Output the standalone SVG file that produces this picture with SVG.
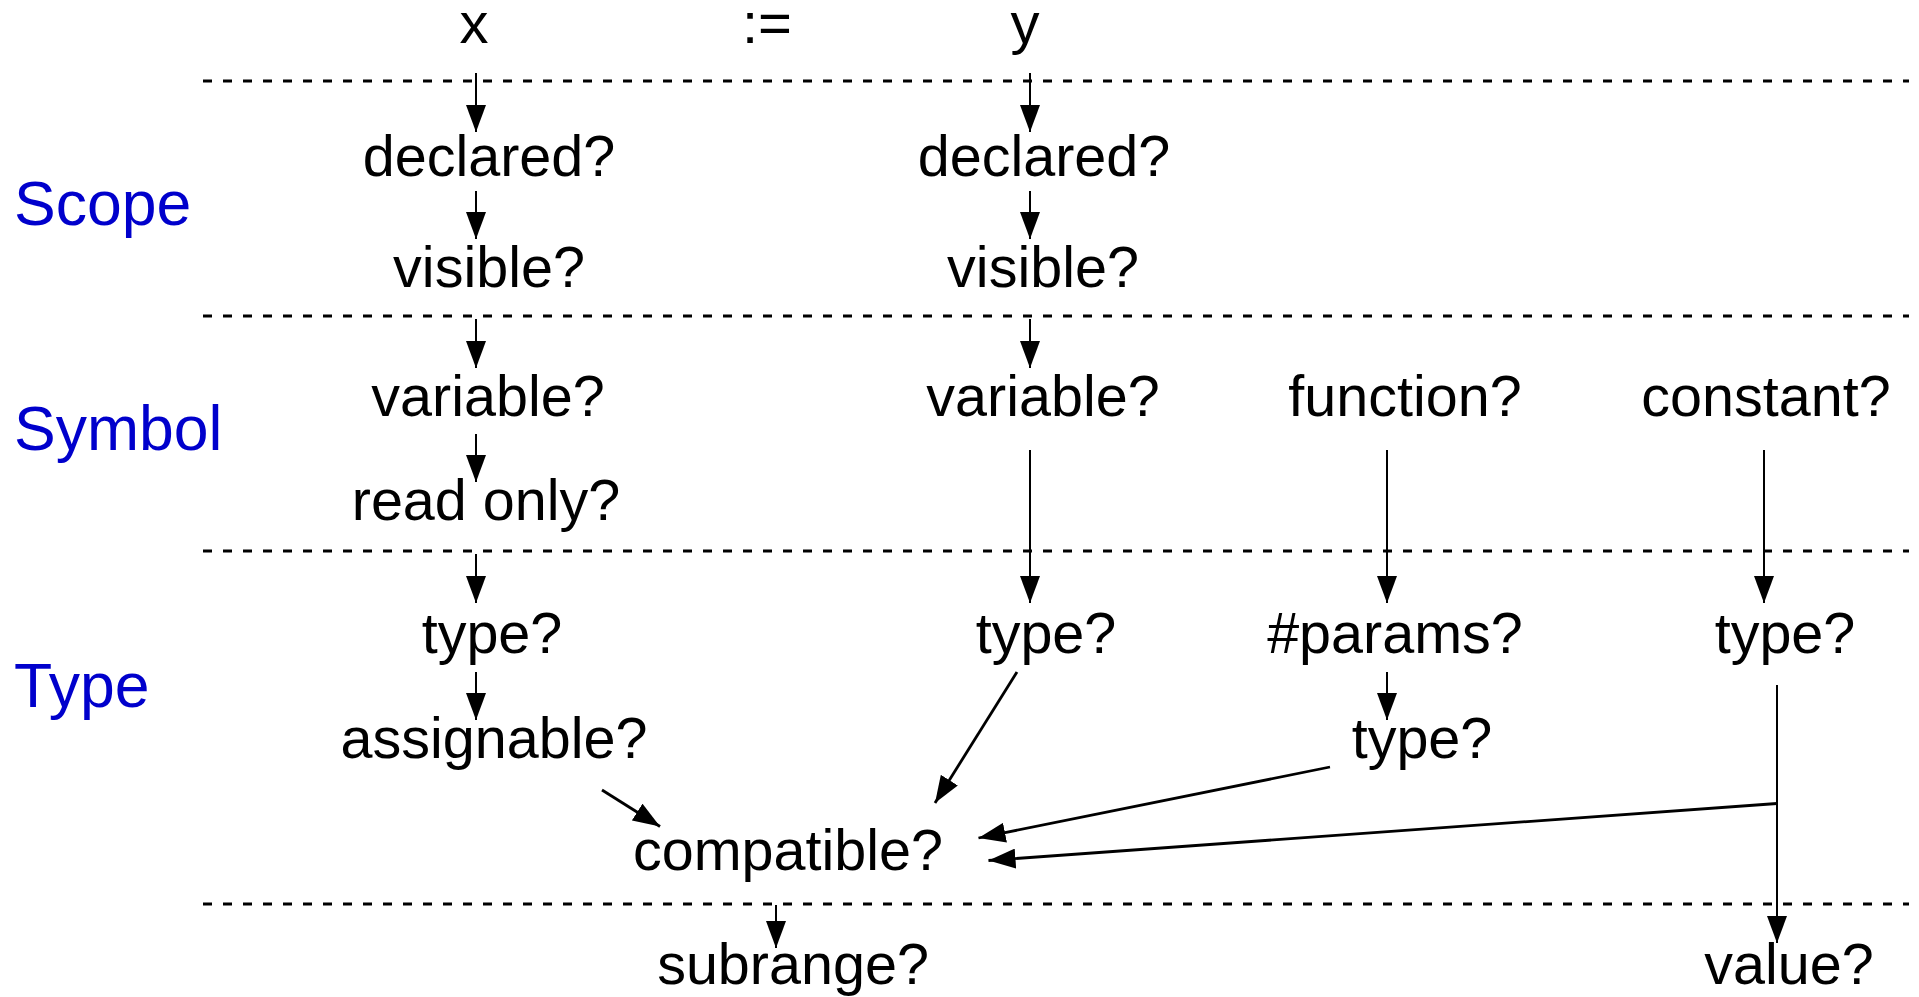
<svg xmlns="http://www.w3.org/2000/svg" width="1919" height="997" viewBox="0 0 1919 997">
  <style>
    .t { font-family: "Liberation Sans", Arial, sans-serif; font-size: 57.5px; fill: #000; text-anchor: middle; }
    .top { font-size: 58px; }
    .lbl { font-family: "Liberation Sans", Arial, sans-serif; font-size: 62.5px; fill: #0000cc; }
    .sep { stroke: #000; stroke-width: 3; stroke-dasharray: 9 11; fill: none; }
    .v { stroke: #000; stroke-width: 2; fill: none; marker-end: url(#head); }
    .d { stroke: #000; stroke-width: 2.8; fill: none; marker-end: url(#head); }
  </style>
  <defs>
    <marker id="head" markerUnits="userSpaceOnUse" markerWidth="28" markerHeight="20" refX="27" refY="10" orient="auto">
      <path d="M0,0 L27,10 L0,20 Z" fill="#000"/>
    </marker>
  </defs>
  <rect width="1919" height="997" fill="#fff"/>

  <!-- layer separators -->
  <g id="separators">
    <line class="sep" x1="203" y1="81" x2="1909" y2="81"/>
    <line class="sep" x1="203" y1="316" x2="1909" y2="316"/>
    <line class="sep" x1="203" y1="551" x2="1909" y2="551"/>
    <line class="sep" x1="203" y1="904" x2="1909" y2="904"/>
  </g>

  <!-- layer labels -->
  <g id="labels">
    <text class="lbl" x="14" y="225">Scope</text>
    <text class="lbl" x="14" y="450">Symbol</text>
    <text class="lbl" x="14" y="707">Type</text>
  </g>

  <!-- statement -->
  <g id="stmt-x"><text class="t top" x="474" y="43">x</text></g>
  <g id="stmt-assign"><text class="t top" x="767" y="43">:=</text></g>
  <g id="stmt-y"><text class="t top" x="1025" y="43">y</text></g>

  <!-- scope checks -->
  <g id="x-declared"><text class="t" x="489" y="176">declared?</text></g>
  <g id="y-declared"><text class="t" x="1044" y="176">declared?</text></g>
  <g id="x-visible"><text class="t" x="489" y="287">visible?</text></g>
  <g id="y-visible"><text class="t" x="1043" y="287">visible?</text></g>

  <!-- symbol checks -->
  <g id="x-variable"><text class="t" x="488" y="416">variable?</text></g>
  <g id="y-variable"><text class="t" x="1043" y="416">variable?</text></g>
  <g id="function"><text class="t" x="1405" y="416">function?</text></g>
  <g id="constant"><text class="t" x="1766" y="416">constant?</text></g>
  <g id="x-readonly"><text class="t" x="486" y="520">read only?</text></g>

  <!-- type checks -->
  <g id="x-type"><text class="t" x="492" y="653">type?</text></g>
  <g id="y-type"><text class="t" x="1046" y="653">type?</text></g>
  <g id="params"><text class="t" x="1395" y="653">#params?</text></g>
  <g id="c-type"><text class="t" x="1785" y="653">type?</text></g>
  <g id="x-assignable"><text class="t" x="494" y="758">assignable?</text></g>
  <g id="f-type"><text class="t" x="1422" y="758">type?</text></g>
  <g id="compatible"><text class="t" x="788" y="870">compatible?</text></g>

  <!-- below the type layer -->
  <g id="subrange"><text class="t" x="793" y="984">subrange?</text></g>
  <g id="value"><text class="t" x="1789" y="984">value?</text></g>

  <!-- connectors -->
  <g id="connectors">
    <!-- x column -->
    <line class="v" x1="476" y1="73" x2="476" y2="132"/>
    <line class="v" x1="476" y1="191" x2="476" y2="239"/>
    <line class="v" x1="476" y1="319" x2="476" y2="368"/>
    <line class="v" x1="476" y1="434" x2="476" y2="482"/>
    <line class="v" x1="476" y1="554" x2="476" y2="603"/>
    <line class="v" x1="476" y1="672" x2="476" y2="720"/>
    <!-- y column -->
    <line class="v" x1="1030" y1="73" x2="1030" y2="132"/>
    <line class="v" x1="1030" y1="191" x2="1030" y2="239"/>
    <line class="v" x1="1030" y1="319" x2="1030" y2="368"/>
    <line class="v" x1="1030" y1="450" x2="1030" y2="603"/>
    <!-- function column -->
    <line class="v" x1="1387" y1="450" x2="1387" y2="603"/>
    <line class="v" x1="1387" y1="672" x2="1387" y2="720"/>
    <!-- constant column -->
    <line class="v" x1="1764" y1="450" x2="1764" y2="603"/>
    <line class="v" x1="1777" y1="685" x2="1777" y2="943"/>
    <!-- into compatible? -->
    <line class="d" x1="602" y1="790" x2="660" y2="826.5"/>
    <line class="d" x1="1017" y1="672" x2="935" y2="803"/>
    <line class="d" x1="1330" y1="767" x2="978.5" y2="838"/>
    <line class="d" x1="1777" y1="803.5" x2="988.5" y2="860.5"/>
    <!-- compatible? to subrange? -->
    <line class="v" x1="776" y1="905" x2="776" y2="948"/>
  </g>
</svg>
